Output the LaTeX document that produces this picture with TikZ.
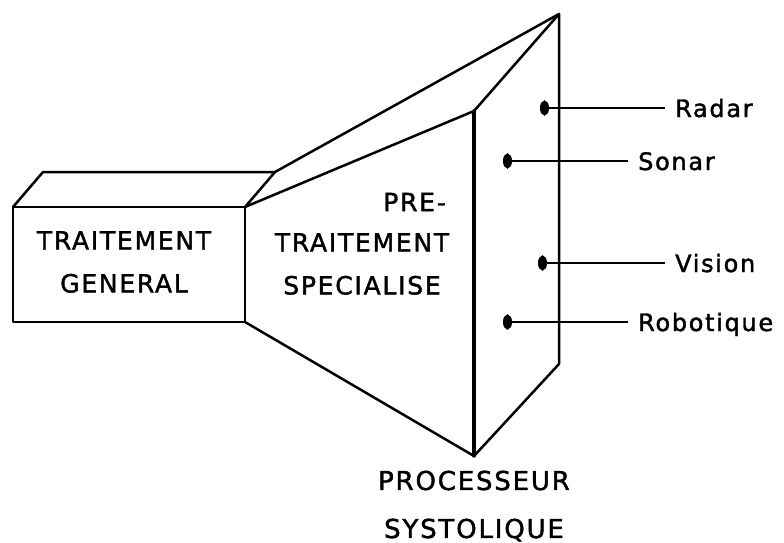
\documentclass[tikz,border=0pt]{standalone}
\usepackage{fontspec}
\setmainfont{DejaVu Sans}
\newfontfamily\plotfont[LetterSpace=7, FakeBold=1.6]{DejaVu Sans}
\usetikzlibrary{arrows.meta}
\begin{document}
\begin{tikzpicture}[x=1pt, y=-1pt,
  edge/.style={line width=2.5pt, line join=round, line cap=round},
  heavy/.style={line width=3.4pt, line cap=round},
  feed/.style={line width=2.2pt, -{Circle[length=9pt, width=15pt]}},
  caption/.style={font=\plotfont\fontsize{25}{43}\selectfont, align=center, inner sep=0pt},
  source/.style={font=\plotfont\fontsize{24}{30}\selectfont, anchor=west,
    text height=18pt, text depth=0pt, inner ysep=0pt, inner xsep=0pt}]
\useasboundingbox (0,0) rectangle (784,543);

% general-purpose block (front face and top face)
\coordinate (fl) at (13,207);
\coordinate (fr) at (245,207);
\coordinate (br) at (245,322);
\coordinate (bl) at (13,322);
\coordinate (tl) at (43,172);
\coordinate (tr) at (275,172);
% systolic processor face
\coordinate (pt) at (474,111);
\coordinate (pb) at (474,456);
\coordinate (apex) at (559,14);
\coordinate (rb) at (559,364);

\draw[edge] (fl) -- (fr) -- (br) -- (bl) -- cycle;
\draw[edge] (fl) -- (tl) -- (tr) -- (fr);
\draw[edge] (fr) -- (pt);
\draw[edge] (tr) -- (apex);
\draw[edge] (br) -- (pb);
\draw[edge] (pt) -- (apex) -- (rb) -- (pb);
\draw[heavy] (pt) -- (pb);

% labels inside the shapes
\node[caption] (gen) at (124,262) {TRAITEMENT\\GENERAL};
\node[caption, anchor=east] (pre) at (446,202) {PRE-};
\node[caption] (spec) at (362,264) {TRAITEMENT\\SPECIALISE};
\node[caption, font=\plotfont\fontsize{26}{48}\selectfont] (sys) at (474,506) {PROCESSEUR\\SYSTOLIQUE};

% input sources
\node[source] (radar) at (675,108) {Radar};
\node[source] (sonar) at (638,161) {Sonar};
\node[source] (vision) at (675,263) {Vision};
\node[source] (robot) at (638,322) {Robotique};

\coordinate (tradar) at (540,108);
\coordinate (tsonar) at (503,161);
\coordinate (tvision) at (538,263);
\coordinate (trobot) at (503,322);

\draw[feed] ([xshift=-10pt]radar.west) -- (tradar);
\draw[feed] ([xshift=-10pt]sonar.west) -- (tsonar);
\draw[feed] ([xshift=-10pt]vision.west) -- (tvision);
\draw[feed] ([xshift=-10pt]robot.west) -- (trobot);
\end{tikzpicture}
\end{document}
